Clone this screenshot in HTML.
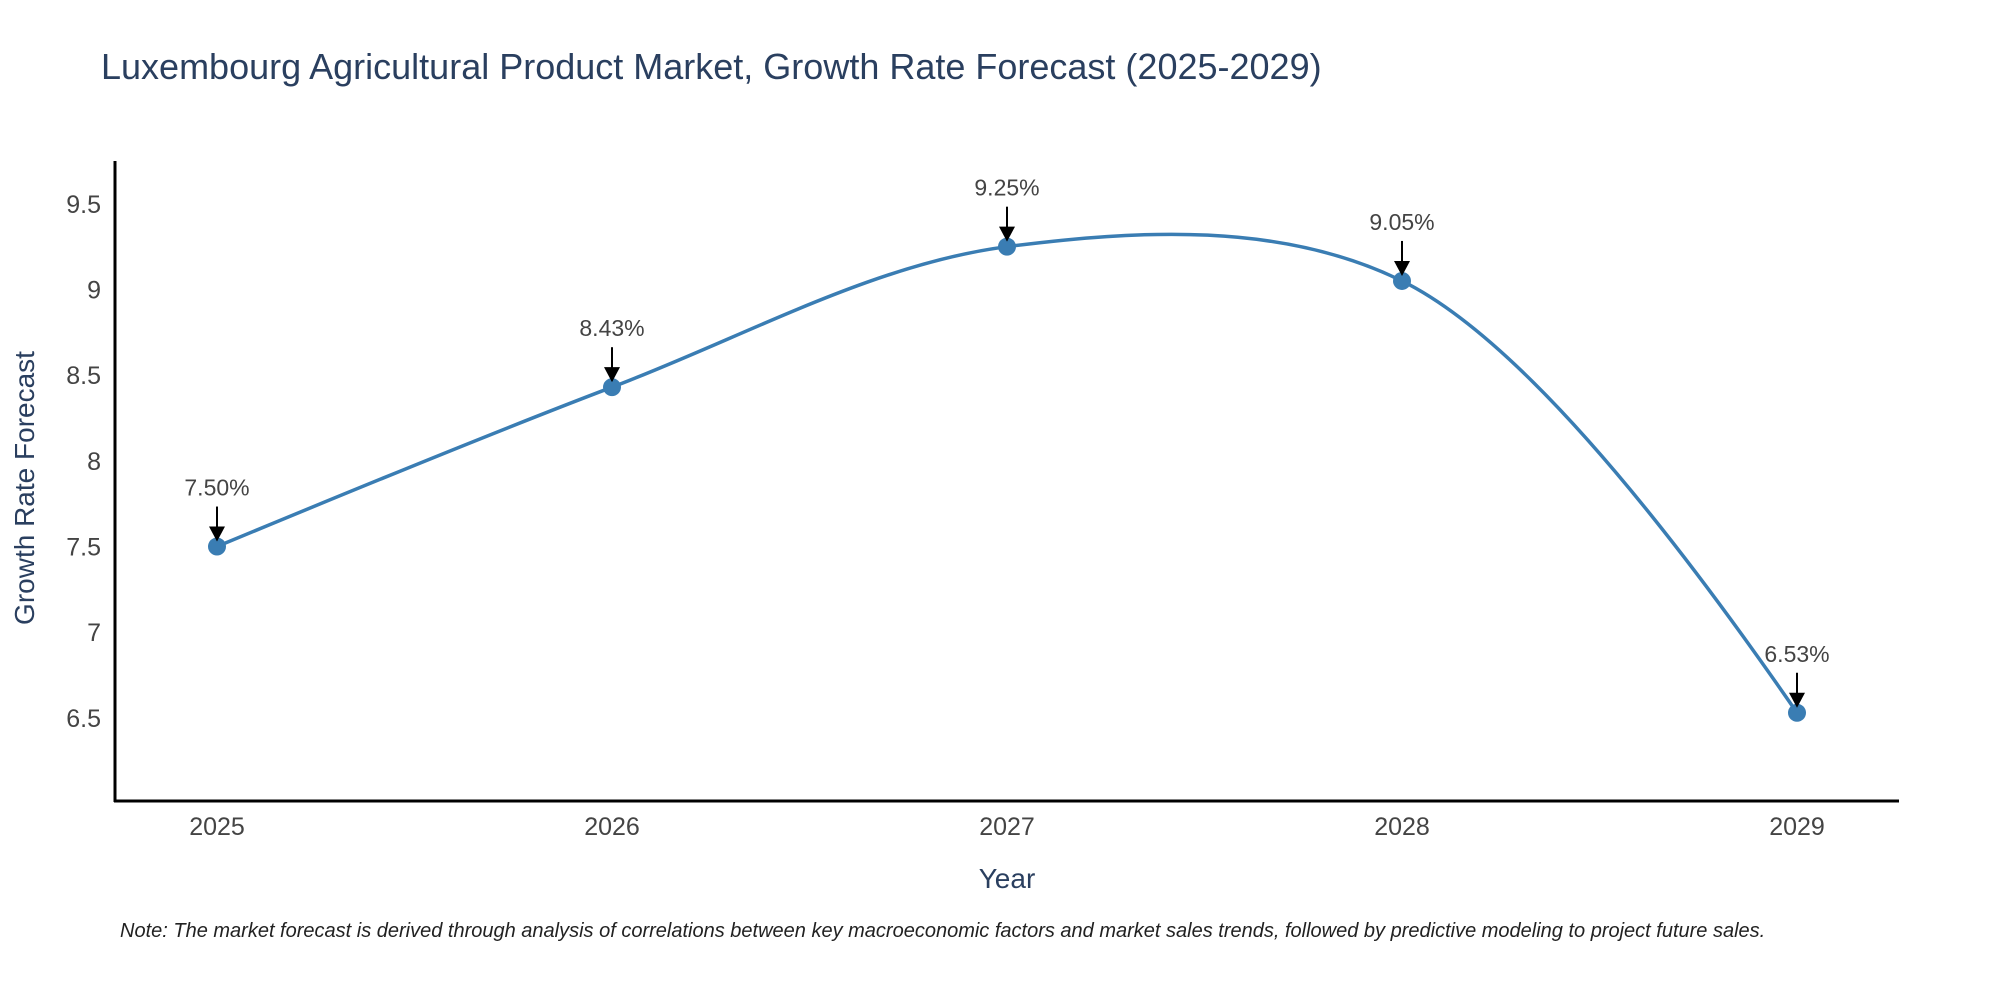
<!DOCTYPE html>
<html><head><meta charset="utf-8"><style>
body{margin:0;background:#fff;}
svg text{font-family:"Liberation Sans",sans-serif;}
</style></head><body>
<svg width="2000" height="1000" xmlns="http://www.w3.org/2000/svg" id="chart">
<rect width="2000" height="1000" fill="#fff"/>
<text x="101" y="79" font-size="36" fill="#2a3f5f">Luxembourg Agricultural Product Market, Growth Rate Forecast (2025-2029)</text>
<g id="yticks"></g>
<g id="xticks"></g>
<path id="line" fill="none" stroke="#3a7db3" stroke-width="3.5"/>
<g id="marks"></g>
<line x1="115" y1="161" x2="115" y2="802" stroke="#000" stroke-width="3"/>
<line x1="114" y1="801" x2="1899" y2="801" stroke="#000" stroke-width="3"/>
<text x="26" y="480" font-size="28" fill="#2a3f5f" text-anchor="middle" transform="rotate(-90 34 480)">Growth Rate Forecast</text>
<text x="1007" y="888" font-size="28" fill="#2a3f5f" text-anchor="middle">Year</text>
<text x="120" y="937" font-size="20" font-style="italic" fill="#222">Note: The market forecast is derived through analysis of correlations between key macroeconomic factors and market sales trends, followed by predictive modeling to project future sales.</text>
</svg>
<script>
const years = [2025, 2026, 2027, 2028, 2029];
const values = [7.50, 8.43, 9.25, 9.05, 6.53];
const yTicks = [6.5, 7, 7.5, 8, 8.5, 9, 9.5];
const NS = "http://www.w3.org/2000/svg";
const X0 = 217, X1 = 1797, YMIN = 6.015, YMAX = 9.75, PB = 801, PT = 161;
function xs(i){ return X0 + (X1 - X0) * (years[i] - years[0]) / (years[years.length-1] - years[0]); }
function ys(v){ return PB - (v - YMIN) / (YMAX - YMIN) * (PB - PT); }
function mk(tag, attrs){ const e = document.createElementNS(NS, tag); for (const k in attrs) e.setAttribute(k, attrs[k]); return e; }
const yt = document.getElementById('yticks');
yTicks.forEach(t => {
  const e = mk('text', {x: 101, y: ys(t) + 9, 'font-size': 25, fill: '#444', 'text-anchor': 'end'});
  
  
  e.textContent = String(t);
  yt.appendChild(e);
});
const xt = document.getElementById('xticks');
years.forEach((y, i) => {
  const e = mk('text', {x: xs(i), y: 835, 'font-size': 25, fill: '#444', 'text-anchor': 'middle'});
  
  
  e.textContent = String(y);
  xt.appendChild(e);
});
const pts = values.map((v, i) => [xs(i), ys(v)]);
function tangent(p, t, n, s){
  const d1x = p[0]-t[0], d1y = p[1]-t[1], d2x = n[0]-t[0], d2y = n[1]-t[1];
  const d1a = Math.pow(d1x*d1x + d1y*d1y, 0.25), d2a = Math.pow(d2x*d2x + d2y*d2y, 0.25);
  const nx = (d2a*d2a*d1x - d1a*d1a*d2x) * s, ny = (d2a*d2a*d1y - d1a*d1a*d2y) * s;
  const a = 3*d2a*(d1a+d2a), b = 3*d1a*(d1a+d2a);
  return [[t[0]+nx/a, t[1]+ny/a], [t[0]-nx/b, t[1]-ny/b]];
}
const tg = [];
for (let i = 1; i < pts.length - 1; i++) tg.push(tangent(pts[i-1], pts[i], pts[i+1], 1));
let d = 'M' + pts[0] + 'Q' + tg[0][0] + ' ' + pts[1];
for (let i = 2; i < pts.length - 1; i++) d += 'C' + tg[i-2][1] + ' ' + tg[i-1][0] + ' ' + pts[i];
d += 'Q' + tg[tg.length-1][1] + ' ' + pts[pts.length-1];
document.getElementById('line').setAttribute('d', d);
const mg = document.getElementById('marks');
pts.forEach((p, i) => {
  const c = mk('circle', {cx: p[0], cy: p[1], r: 9, fill: '#3a7db3'});
  
  
  mg.appendChild(c);
  const a = mk('line', {x1: p[0], y1: p[1] - 40, x2: p[0], y2: p[1] - 18, stroke: '#000', 'stroke-width': 2});
  
  
  mg.appendChild(a);
  const h = mk('polygon', {points: (p[0]-8) + ',' + (p[1]-20) + ' ' + (p[0]+8) + ',' + (p[1]-20) + ' ' + p[0] + ',' + (p[1]-5), fill: '#000'});
  
  
  mg.appendChild(h);
  const t = mk('text', {x: p[0], y: p[1] - 51, 'font-size': 23, fill: '#444', 'text-anchor': 'middle'});
  
  
  t.textContent = values[i].toFixed(2) + '%';
  mg.appendChild(t);
});
</script>
</body></html>
